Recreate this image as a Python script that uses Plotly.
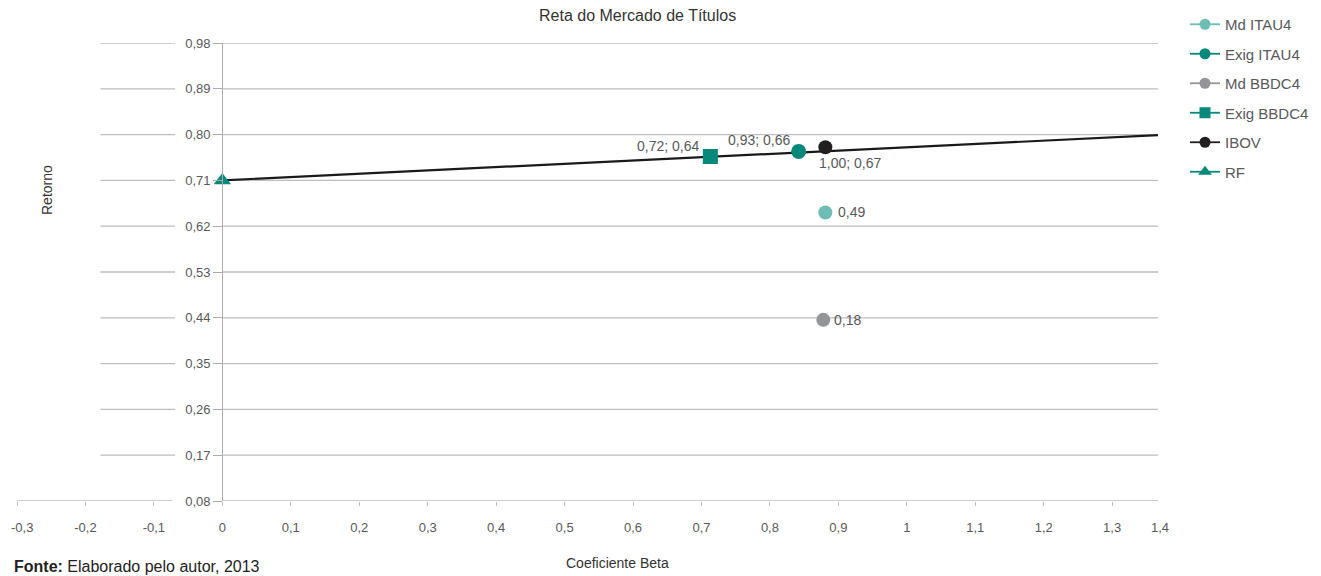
import plotly.graph_objects as go

# ---------------- data ----------------
series_names = ["Md ITAU4", "Exig ITAU4", "Md BBDC4", "Exig BBDC4", "IBOV", "RF"]
beta_values = [0.881, 0.842, 0.878, 0.713, 0.881, 0.0]
return_values = [0.647, 0.767, 0.436, 0.757, 0.775, 0.710]
point_labels = ["0,49", "0,93; 0,66", "0,18", "0,72; 0,64", "1,00; 0,67", ""]

sml_beta = [0.0, 1.367]
sml_return = [0.710, 0.799]

x_tickvals = [-0.3, -0.2, -0.1, 0.0, 0.1, 0.2, 0.3, 0.4, 0.5, 0.6, 0.7, 0.8, 0.9, 1.0, 1.1, 1.2, 1.3]
x_ticktext = ["-0,3", "-0,2", "-0,1", "0", "0,1", "0,2", "0,3", "0,4", "0,5", "0,6",
              "0,7", "0,8", "0,9", "1", "1,1", "1,2", "1,3"]
x_last_tick = "1,4"
y_tickvals = [0.08, 0.17, 0.26, 0.35, 0.44, 0.53, 0.62, 0.71, 0.80, 0.89, 0.98]
y_ticktext = ["0,08", "0,17", "0,26", "0,35", "0,44", "0,53", "0,62", "0,71", "0,80", "0,89", "0,98"]

# ---------------- styles ----------------
TEAL = "#06887A"
colors = ["#6DBDB4", TEAL, "#939598", TEAL, "#231F20", TEAL]
symbols = ["circle", "circle", "circle", "square", "circle", "triangle-up"]
sizes = [14, 15, 14, 15, 14, 15]
legend_sizes = [11, 11, 11, 11, 11, 12]
label_shift = [(26, 0), (-40, 11), (24, 0), (-42, 10), (25, -16), (0, 0)]
FONT = "Liberation Sans, Arial, Helvetica, sans-serif"
TXT = "#58595B"
GRID = "#BEBEBE"

# page is drawn with an 8px body margin: figure pixels = page pixels - 8
W, H = 1313, 568
ML, MR, MT, MB = 9, 163, 35, 75
PW, PH = W - ML - MR, H - MT - MB

X0, X1 = -0.3, 1.367
fig = go.Figure()

# security market line
fig.add_trace(go.Scatter(x=sml_beta, y=sml_return, mode="lines",
                         line=dict(color="#1A1A1A", width=2.2),
                         showlegend=False, hoverinfo="skip"))

for i, name in enumerate(series_names):
    fig.add_trace(go.Scatter(
        x=[beta_values[i]], y=[return_values[i]], name=name,
        mode="markers", showlegend=False,
        marker=dict(color=colors[i], symbol=symbols[i], size=sizes[i]),
    ))

# legend entries (line + marker symbol as in the reference legend)
for i, name in enumerate(series_names):
    fig.add_trace(go.Scatter(
        x=[None], y=[None], name=name, mode="lines+markers", legendgroup=name,
        line=dict(color=colors[i], width=1.8),
        marker=dict(color=colors[i], symbol=symbols[i], size=legend_sizes[i]),
    ))

# data labels
for i, lab in enumerate(point_labels):
    if not lab:
        continue
    dx, dy = label_shift[i]
    fig.add_annotation(x=beta_values[i], y=return_values[i], text=lab,
                       showarrow=False, xshift=dx, yshift=dy,
                       font=dict(family=FONT, size=14, color=TXT))

# gridlines (with a gap around the y tick labels)
shapes = []
for v in y_tickvals:
    left_start = -0.178 if v != y_tickvals[0] else X0
    left_end = -0.069 if v != y_tickvals[0] else -0.073
    shapes.append(dict(type="line", xref="x", yref="y", x0=left_start, x1=left_end,
                       y0=v, y1=v, line=dict(color=GRID, width=1.3), layer="below"))
    shapes.append(dict(type="line", xref="x", yref="y", x0=0, x1=X1,
                       y0=v, y1=v, line=dict(color=GRID, width=1.3), layer="below"))

# first label is drawn as an annotation so it is not cut by the page edge
shown_ticktext = [""] + x_ticktext[1:]

fig.update_layout(
    width=W, height=H,
    margin=dict(l=ML, r=MR, t=MT, b=MB, autoexpand=False),
    paper_bgcolor="white", plot_bgcolor="white",
    font=dict(family=FONT, size=13, color=TXT),
    shapes=shapes,
    showlegend=True,
    legend=dict(xref="container", yref="container", x=1177 / W, y=1.0,
                xanchor="left", yanchor="top",
                font=dict(family=FONT, size=15, color=TXT),
                tracegroupgap=7, bgcolor="rgba(0,0,0,0)"),
    xaxis=dict(range=[X0, X1], tickvals=x_tickvals, ticktext=shown_ticktext,
               showgrid=False, zeroline=False, showline=False, automargin=False,
               ticks="outside", ticklen=4, tickcolor=GRID, tickwidth=1,
               ticklabelstandoff=10, ticklabeloverflow="allow",
               tickfont=dict(family=FONT, size=13, color=TXT)),
    yaxis=dict(range=[0.08, 0.98], tickvals=y_tickvals, ticktext=y_ticktext,
               anchor="free", position=(0 - X0) / (X1 - X0), automargin=False,
               showgrid=False, zeroline=False, showline=True,
               linecolor="#ABABAB", linewidth=1.3,
               ticks="outside", ticklen=9, tickcolor="#ABABAB", tickwidth=1.3,
               tickfont=dict(family=FONT, size=13, color=TXT)),
)

def px_x(page_x):
    return (page_x - 8 - ML) / PW

def px_y(page_y):
    return (H - MB - (page_y - 8)) / PH

# first and last x tick labels
fig.add_annotation(x=px_x(9), y=px_y(527), xref="paper", yref="paper",
                   xanchor="left", yanchor="middle", text=x_ticktext[0], showarrow=False,
                   font=dict(family=FONT, size=13, color=TXT))
fig.add_annotation(x=px_x(1171), y=px_y(527), xref="paper", yref="paper",
                   yanchor="middle", text=x_last_tick, showarrow=False,
                   font=dict(family=FONT, size=13, color=TXT))

# titles
fig.add_annotation(text="Reta do Mercado de Títulos", xref="paper", yref="paper",
                   x=px_x(637), y=px_y(15), yanchor="middle",
                   showarrow=False, font=dict(family=FONT, size=16, color="#333333"))
fig.add_annotation(text="Retorno", xref="paper", yref="paper", textangle=-90,
                   x=px_x(47), y=px_y(190), xanchor="center", yanchor="middle",
                   showarrow=False, font=dict(family=FONT, size=14, color="#333333"))
fig.add_annotation(text="Coeficiente Beta", xref="paper", yref="paper",
                   x=px_x(617), y=px_y(563), yanchor="middle",
                   showarrow=False, font=dict(family=FONT, size=14, color="#333333"))
fig.add_annotation(text="<b>Fonte:</b> Elaborado pelo autor, 2013", xref="paper", yref="paper",
                   x=px_x(12), xanchor="left", y=px_y(566), yanchor="middle",
                   showarrow=False, font=dict(family=FONT, size=16, color="#222222"))

fig.write_html("out.html")
